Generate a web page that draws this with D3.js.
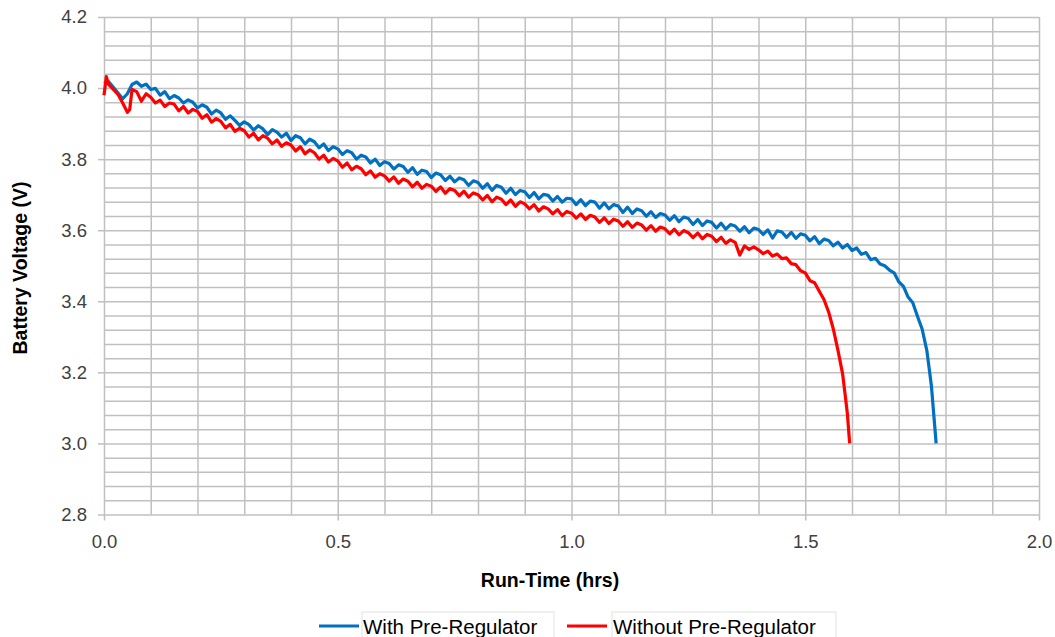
<!DOCTYPE html>
<html>
<head>
<meta charset="utf-8">
<script src="https://cdn.jsdelivr.net/npm/d3@7"></script>
<style>
  body { margin: 0; background: #fff; }
  .grid line { stroke: #c0c0c0; stroke-width: 1.5; }
  .grid path { display: none; }
  .axis path { display: none; }
  .axis line { stroke: #bfbfbf; stroke-width: 1.5; }
  .axis text { font-family: "Liberation Sans", Arial, sans-serif; font-size: 18.5px; fill: #404040; }
</style>
</head>
<body>
<div class="chart"></div>
<script>
const FRAME_WIDTH = 1055;
const FRAME_HEIGHT = 637;
const MARGINS = {left: 104, right: 16, top: 17, bottom: 122.5};

// data
const seriesNames = ["With Pre-Regulator", "Without Pre-Regulator"];
const seriesColors = ["#0070c0", "#ff0000"];

const runTimeWith = [
  0.00, 0.01, 0.02, 0.03, 0.04, 0.05, 0.06, 0.07, 0.08, 0.09,
  0.10, 0.11, 0.12, 0.13, 0.14, 0.15, 0.16, 0.17, 0.18, 0.19,
  0.20, 0.21, 0.22, 0.23, 0.24, 0.25, 0.26, 0.27, 0.28, 0.29,
  0.30, 0.31, 0.32, 0.33, 0.34, 0.35, 0.36, 0.37, 0.38, 0.39,
  0.40, 0.41, 0.42, 0.43, 0.44, 0.45, 0.46, 0.47, 0.48, 0.49,
  0.50, 0.51, 0.52, 0.53, 0.54, 0.55, 0.56, 0.57, 0.58, 0.59,
  0.60, 0.61, 0.62, 0.63, 0.64, 0.65, 0.66, 0.67, 0.68, 0.69,
  0.70, 0.71, 0.72, 0.73, 0.74, 0.75, 0.76, 0.77, 0.78, 0.79,
  0.80, 0.81, 0.82, 0.83, 0.84, 0.85, 0.86, 0.87, 0.88, 0.89,
  0.90, 0.91, 0.92, 0.93, 0.94, 0.95, 0.96, 0.97, 0.98, 0.99,
  1.00, 1.01, 1.02, 1.03, 1.04, 1.05, 1.06, 1.07, 1.08, 1.09,
  1.10, 1.11, 1.12, 1.13, 1.14, 1.15, 1.16, 1.17, 1.18, 1.19,
  1.20, 1.21, 1.22, 1.23, 1.24, 1.25, 1.26, 1.27, 1.28, 1.29,
  1.30, 1.31, 1.32, 1.33, 1.34, 1.35, 1.36, 1.37, 1.38, 1.39,
  1.40, 1.41, 1.42, 1.43, 1.44, 1.45, 1.46, 1.47, 1.48, 1.49,
  1.50, 1.51, 1.52, 1.53, 1.54, 1.55, 1.56, 1.57, 1.58, 1.59,
  1.60, 1.61, 1.62, 1.63, 1.64, 1.65, 1.66, 1.67, 1.68, 1.69,
  1.70, 1.71, 1.72, 1.73, 1.74, 1.75, 1.76, 1.765, 1.77, 1.775, 1.78
];
const voltageWith = [
  4.013, 4.018, 4.002, 3.986, 3.970, 3.984, 4.010, 4.017, 4.005, 4.011,
  3.996, 3.999, 3.980, 3.990, 3.970, 3.979, 3.972, 3.958, 3.967, 3.960,
  3.944, 3.953, 3.946, 3.927, 3.938, 3.930, 3.912, 3.922, 3.909, 3.895,
  3.905, 3.897, 3.882, 3.894, 3.885, 3.869, 3.883, 3.876, 3.862, 3.873,
  3.852, 3.866, 3.860, 3.843, 3.856, 3.849, 3.832, 3.843, 3.824, 3.835,
  3.829, 3.813, 3.824, 3.818, 3.800, 3.811, 3.806, 3.789, 3.800, 3.782,
  3.793, 3.788, 3.772, 3.784, 3.779, 3.763, 3.776, 3.757, 3.769, 3.765,
  3.748, 3.761, 3.756, 3.740, 3.752, 3.736, 3.747, 3.742, 3.726, 3.739,
  3.734, 3.718, 3.731, 3.712, 3.726, 3.721, 3.704, 3.718, 3.700, 3.712,
  3.708, 3.692, 3.706, 3.688, 3.701, 3.698, 3.682, 3.695, 3.679, 3.690,
  3.688, 3.672, 3.686, 3.669, 3.682, 3.679, 3.662, 3.677, 3.660, 3.672,
  3.668, 3.650, 3.665, 3.647, 3.660, 3.655, 3.639, 3.652, 3.636, 3.647,
  3.643, 3.628, 3.641, 3.624, 3.637, 3.633, 3.616, 3.630, 3.613, 3.626,
  3.622, 3.606, 3.620, 3.603, 3.616, 3.612, 3.597, 3.610, 3.593, 3.606,
  3.602, 3.588, 3.601, 3.578, 3.598, 3.595, 3.580, 3.594, 3.577, 3.590,
  3.586, 3.570, 3.582, 3.562, 3.575, 3.571, 3.556, 3.566, 3.550, 3.560,
  3.543, 3.550, 3.532, 3.537, 3.517, 3.521, 3.505, 3.500, 3.488, 3.480,
  3.455, 3.442, 3.412, 3.396, 3.358, 3.322, 3.262, 3.212, 3.160, 3.080, 3.000
];

const runTimeWithout = [
  0.00, 0.005, 0.01, 0.02, 0.03, 0.04, 0.05, 0.055, 0.06, 0.07, 0.08, 0.09,
  0.10, 0.11, 0.12, 0.13, 0.14, 0.15, 0.16, 0.17, 0.18, 0.19,
  0.20, 0.21, 0.22, 0.23, 0.24, 0.25, 0.26, 0.27, 0.28, 0.29,
  0.30, 0.31, 0.32, 0.33, 0.34, 0.35, 0.36, 0.37, 0.38, 0.39,
  0.40, 0.41, 0.42, 0.43, 0.44, 0.45, 0.46, 0.47, 0.48, 0.49,
  0.50, 0.51, 0.52, 0.53, 0.54, 0.55, 0.56, 0.57, 0.58, 0.59,
  0.60, 0.61, 0.62, 0.63, 0.64, 0.65, 0.66, 0.67, 0.68, 0.69,
  0.70, 0.71, 0.72, 0.73, 0.74, 0.75, 0.76, 0.77, 0.78, 0.79,
  0.80, 0.81, 0.82, 0.83, 0.84, 0.85, 0.86, 0.87, 0.88, 0.89,
  0.90, 0.91, 0.92, 0.93, 0.94, 0.95, 0.96, 0.97, 0.98, 0.99,
  1.00, 1.01, 1.02, 1.03, 1.04, 1.05, 1.06, 1.07, 1.08, 1.09,
  1.10, 1.11, 1.12, 1.13, 1.14, 1.15, 1.16, 1.17, 1.18, 1.19,
  1.20, 1.21, 1.22, 1.23, 1.24, 1.25, 1.26, 1.27, 1.28, 1.29,
  1.30, 1.31, 1.32, 1.33, 1.34, 1.35, 1.36, 1.37, 1.38, 1.39,
  1.40, 1.41, 1.42, 1.43, 1.44, 1.45, 1.46, 1.47, 1.48, 1.49,
  1.50, 1.51, 1.52, 1.53, 1.54, 1.55, 1.56, 1.57, 1.58, 1.585, 1.59, 1.595
];
const voltageWithout = [
  3.980, 4.032, 4.010, 3.996, 3.982, 3.958, 3.932, 3.940, 3.996, 3.990, 3.963, 3.984,
  3.974, 3.958, 3.966, 3.948, 3.958, 3.955, 3.936, 3.948, 3.930, 3.940,
  3.934, 3.915, 3.925, 3.904, 3.914, 3.906, 3.888, 3.898, 3.878, 3.887,
  3.880, 3.862, 3.873, 3.854, 3.866, 3.859, 3.843, 3.854, 3.836, 3.846,
  3.840, 3.823, 3.835, 3.815, 3.826, 3.818, 3.800, 3.811, 3.792, 3.802,
  3.795, 3.777, 3.789, 3.770, 3.780, 3.773, 3.756, 3.767, 3.749, 3.759,
  3.753, 3.738, 3.750, 3.732, 3.744, 3.738, 3.722, 3.735, 3.718, 3.729,
  3.724, 3.709, 3.722, 3.704, 3.717, 3.712, 3.697, 3.710, 3.693, 3.705,
  3.700, 3.685, 3.698, 3.680, 3.693, 3.687, 3.672, 3.685, 3.667, 3.680,
  3.674, 3.660, 3.672, 3.654, 3.666, 3.660, 3.646, 3.658, 3.641, 3.653,
  3.648, 3.634, 3.646, 3.630, 3.642, 3.637, 3.622, 3.635, 3.619, 3.631,
  3.626, 3.611, 3.624, 3.608, 3.620, 3.615, 3.600, 3.613, 3.597, 3.609,
  3.604, 3.590, 3.603, 3.587, 3.599, 3.593, 3.579, 3.592, 3.576, 3.588,
  3.583, 3.568, 3.580, 3.563, 3.573, 3.566, 3.530, 3.556, 3.546, 3.553,
  3.545, 3.534, 3.541, 3.527, 3.533, 3.520, 3.522, 3.506, 3.503, 3.486,
  3.480, 3.458, 3.452, 3.428, 3.405, 3.370, 3.322, 3.262, 3.195, 3.141, 3.085, 3.000
];

const xTicks = [0.0, 0.5, 1.0, 1.5, 2.0];
const yTicks = [2.8, 3.0, 3.2, 3.4, 3.6, 3.8, 4.0, 4.2];
const xGrid = [0.0, 0.1, 0.2, 0.3, 0.4, 0.5, 0.6, 0.7, 0.8, 0.9, 1.0,
               1.1, 1.2, 1.3, 1.4, 1.5, 1.6, 1.7, 1.8, 1.9, 2.0];
const yGrid = [2.80, 2.84, 2.88, 2.92, 2.96, 3.00, 3.04, 3.08, 3.12, 3.16,
               3.20, 3.24, 3.28, 3.32, 3.36, 3.40, 3.44, 3.48, 3.52, 3.56,
               3.60, 3.64, 3.68, 3.72, 3.76, 3.80, 3.84, 3.88, 3.92, 3.96,
               4.00, 4.04, 4.08, 4.12, 4.16, 4.20];

const PLOT_WIDTH = FRAME_WIDTH - MARGINS.left - MARGINS.right;
const PLOT_HEIGHT = FRAME_HEIGHT - MARGINS.top - MARGINS.bottom;

const FRAME = d3.select(".chart")
    .append("svg")
    .attr("width", FRAME_WIDTH)
    .attr("height", FRAME_HEIGHT);

const xScale = d3.scaleLinear().domain([0, 2]).range([0, PLOT_WIDTH]);
const yScale = d3.scaleLinear().domain([2.8, 4.2]).range([PLOT_HEIGHT, 0]);

const PLOT = FRAME.append("g")
    .attr("transform", "translate(" + MARGINS.left + "," + MARGINS.top + ")");

// gridlines
PLOT.append("g")
    .attr("class", "grid")
    .call(d3.axisLeft(yScale).tickValues(yGrid).tickSize(-PLOT_WIDTH).tickFormat(""));

PLOT.append("g")
    .attr("class", "grid")
    .attr("transform", "translate(0," + PLOT_HEIGHT + ")")
    .call(d3.axisBottom(xScale).tickValues(xGrid).tickSize(-PLOT_HEIGHT).tickFormat(""));

// axes
PLOT.append("g")
    .attr("class", "axis")
    .call(d3.axisLeft(yScale).tickValues(yTicks).tickSize(6).tickPadding(11)
        .tickFormat(d3.format(".1f")));

PLOT.append("g")
    .attr("class", "axis")
    .attr("transform", "translate(0," + PLOT_HEIGHT + ")")
    .call(d3.axisBottom(xScale).tickValues(xTicks).tickSize(6).tickPadding(14)
        .tickFormat(d3.format(".1f")));

// lines
const series = [
    {name: seriesNames[0], color: seriesColors[0], t: runTimeWith, v: voltageWith},
    {name: seriesNames[1], color: seriesColors[1], t: runTimeWithout, v: voltageWithout}
];

const line = d3.line()
    .x((d) => xScale(d[0]))
    .y((d) => yScale(d[1]));

series.forEach((s) => {
    PLOT.append("path")
        .datum(d3.zip(s.t, s.v))
        .attr("fill", "none")
        .attr("stroke", s.color)
        .attr("stroke-width", 3.2)
        .attr("stroke-linejoin", "round")
        .attr("d", line);
});

// axis titles
FRAME.append("text")
    .attr("transform", "translate(27,268) rotate(-90)")
    .attr("text-anchor", "middle")
    .attr("font-family", "Liberation Sans Narrow, Liberation Sans, Arial, sans-serif")
    .attr("font-weight", "bold")
    .attr("font-size", "19.5px")
    .attr("fill", "#000")
    .text("Battery Voltage (V)");

FRAME.append("text")
    .attr("x", 550)
    .attr("y", 587)
    .attr("text-anchor", "middle")
    .attr("font-family", "Liberation Sans Narrow, Liberation Sans, Arial, sans-serif")
    .attr("font-weight", "bold")
    .attr("font-size", "19.5px")
    .attr("fill", "#000")
    .text("Run-Time (hrs)");

// legend
const legendX = [319, 567];
const legendBox = [[362, 554], [612, 836]];
series.forEach((s, i) => {
    FRAME.append("rect")
        .attr("x", legendBox[i][0])
        .attr("y", 612)
        .attr("width", legendBox[i][1] - legendBox[i][0])
        .attr("height", 30)
        .attr("fill", "none")
        .attr("stroke", "#e2e2e2")
        .attr("stroke-width", 1);
    FRAME.append("line")
        .attr("x1", legendX[i])
        .attr("x2", legendX[i] + 40)
        .attr("y1", 626)
        .attr("y2", 626)
        .attr("stroke", s.color)
        .attr("stroke-width", 3);
    FRAME.append("text")
        .attr("x", legendBox[i][0] + 1)
        .attr("y", 633.5)
        .attr("font-family", "Liberation Sans, Arial, sans-serif")
        .attr("font-size", "20.5px")
        .attr("fill", "#000")
        .text(s.name);
});
</script>
</body>
</html>
